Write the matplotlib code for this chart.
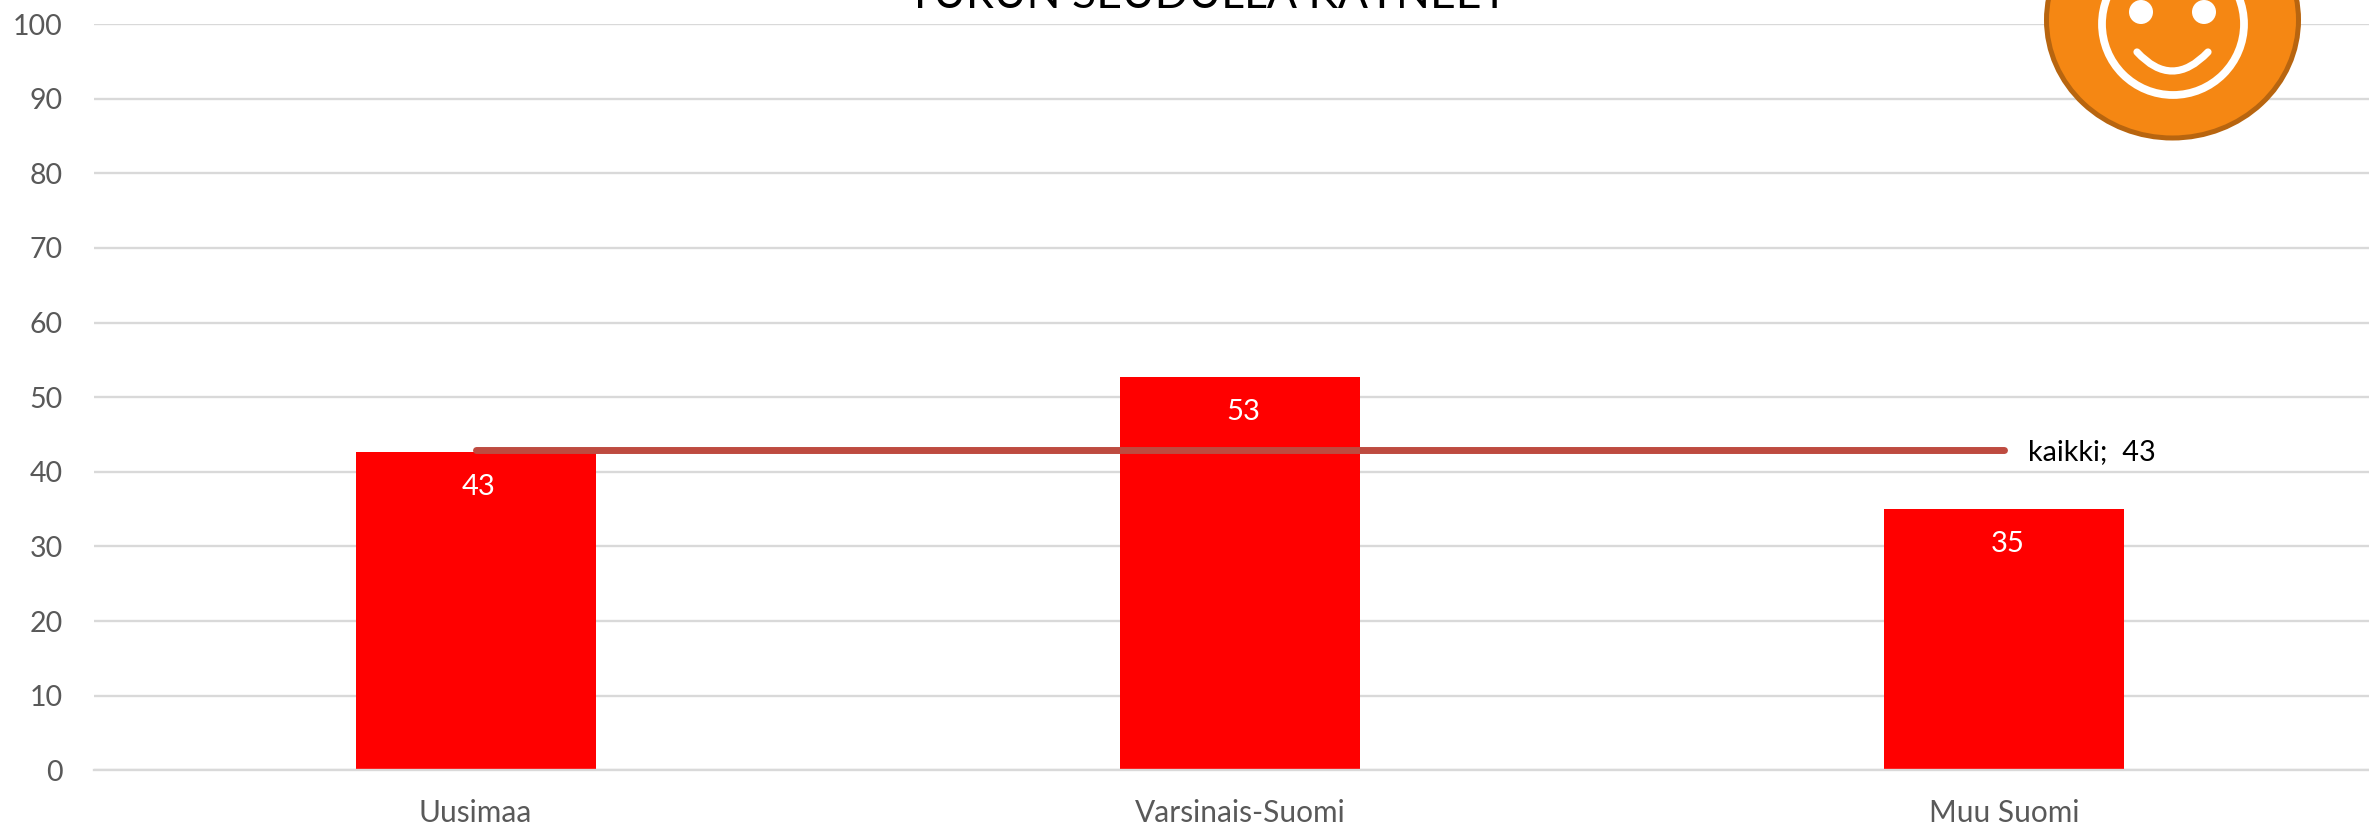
import matplotlib
matplotlib.use('Agg')
import matplotlib.pyplot as plt
from matplotlib.patches import Circle, Ellipse, PathPatch
from matplotlib.path import Path

W, H = 2369, 827

categories = ['Uusimaa', 'Varsinais-Suomi', 'Muu Suomi']
values = [42.6, 52.7, 35.0]
value_labels = ['43', '53', '35']
kaikki = [42.9, 42.9, 42.9]
kaikki_label = 'kaikki;  43'
yticks = [0, 10, 20, 30, 40, 50, 60, 70, 80, 90, 100]
title = 'TURUN SEUDULLA KÄYNEET'

plt.rcParams['font.family'] = ['Lato', 'DejaVu Sans']

fig = plt.figure(figsize=(W / 100, H / 100), dpi=100, facecolor='white')

# axes box in pixels: x 93..right edge, y 24.2 (100) .. 770.2 (0)
ax = fig.add_axes([93.5 / W, 1 - 770.2 / H, (W - 93.5) / W, 746 / H])
ax.set_xlim(-0.5, 2.477)
ax.set_ylim(0, 100)

ax.bar(range(3), values, width=0.314, color='#ff0000', zorder=2)
ax.plot(range(3), kaikki, color='#be4b40', linewidth=5,
        solid_capstyle='round', zorder=3)

for i, (v, lab) in enumerate(zip(values, value_labels)):
    ax.annotate(lab, (i, v), xytext=(3, -35), textcoords='offset pixels',
                ha='center', va='center', color='white', fontsize=21)

ax.annotate(kaikki_label, (2, kaikki[2]), xytext=(24, -2), textcoords='offset pixels',
            ha='left', va='center', color='black', fontsize=20.7)

ax.set_yticks(yticks)
ax.set_xticks(range(3))
ax.set_xticklabels(categories)
ax.grid(axis='y', color='#d9d9d9', linewidth=1.7, zorder=0)
ax.set_axisbelow(True)
ax.tick_params(axis='y', length=0, pad=22, labelsize=20.5, labelcolor='#595959')
ax.tick_params(axis='x', length=0, pad=21, labelsize=21.5, labelcolor='#595959')
for side in ['top', 'right', 'left']:
    ax.spines[side].set_visible(False)
ax.spines['bottom'].set_color('#d9d9d9')
ax.spines['bottom'].set_linewidth(1.7)

# title is cut off by the top edge of the picture, same as the original
fig.text(1207 / W, 1 - 8.5 / H, title, ha='center', va='baseline',
         color='black', fontsize=32)

# smiley badge, in pixel coordinates
badge = fig.add_axes([0, 0, 1, 1], facecolor='none')
badge.set_xlim(0, W)
badge.set_ylim(H, 0)
badge.axis('off')
badge.add_patch(Ellipse((2172.5, 20), 252, 236, facecolor='#f58713',
                        edgecolor='#b8650f', linewidth=3.6))
badge.add_patch(Circle((2173, 24), 71, facecolor='none', edgecolor='white', linewidth=5.6))
badge.add_patch(Circle((2141, 12), 12, facecolor='white', edgecolor='none'))
badge.add_patch(Circle((2204, 12), 12, facecolor='white', edgecolor='none'))
mouth = Path([(2137, 52), (2172, 90), (2208, 52)], [Path.MOVETO, Path.CURVE3, Path.CURVE3])
badge.add_patch(PathPatch(mouth, facecolor='none', edgecolor='white',
                          linewidth=5.2, capstyle='round'))

fig.savefig('out.png', dpi=100)
